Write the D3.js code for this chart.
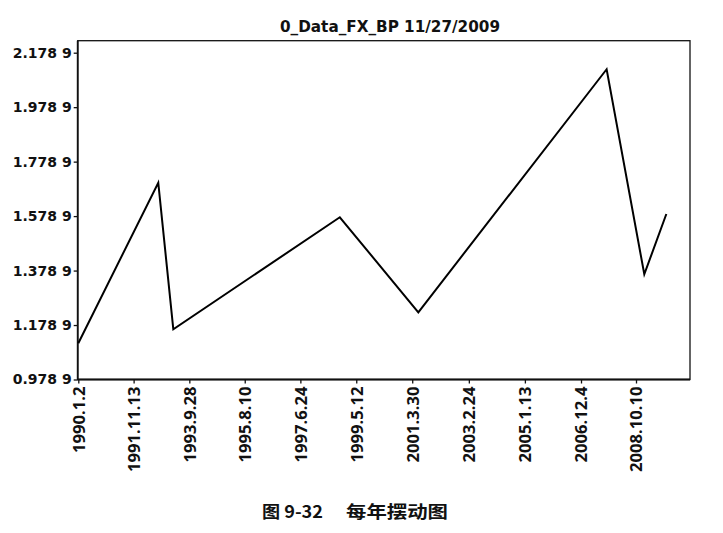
<!DOCTYPE html>
<html>
<head>
<meta charset="utf-8">
<script src="https://cdn.jsdelivr.net/npm/d3@7"></script>
<style>
  html, body { margin: 0; padding: 0; background: #fff; }
  svg { display: block; }
</style>
</head>
<body>
<svg id="chart" width="723" height="533"></svg>
<script>
// ---- data ----
const titleText = "0_Data_FX_BP 11/27/2009";
const captionFig = "图 9-32";
const captionName = "每年摆动图";

const pointDates = ["1990-01-02", "1992-09-11", "1993-03-15", "1998-10-22",
                    "2001-06-13", "2007-10-15", "2009-01-20", "2009-10-18"];
const pointValues = [1.1118, 1.7016, 1.1633, 1.5746, 1.2257, 2.1181, 1.3652, 1.5867];

const yTicks = [0.9789, 1.1789, 1.3789, 1.5789, 1.7789, 1.9789, 2.1789];
const yTickLabels = ["0.978 9", "1.178 9", "1.378 9", "1.578 9", "1.778 9", "1.978 9", "2.178 9"];

const xTickLabels = ["1990.1.2", "1991.11.13", "1993.9.28", "1995.8.10", "1997.6.24",
                     "1999.5.12", "2001.3.30", "2003.2.24", "2005.1.13", "2006.12.4", "2008.10.10"];

// ---- layout ----
const box = { left: 77.7, right: 690, top: 40.7, bottom: 379.5 };
const parseISO = d3.timeParse("%Y-%m-%d");
const parseDot = d3.timeParse("%Y.%m.%d");
const xTickDates = xTickLabels.map(parseDot);

const x = d3.scaleTime()
  .domain([xTickDates[0], xTickDates[xTickDates.length - 1]])
  .range([78.3, 636]);
const y = d3.scaleLinear()
  .domain([yTicks[0], yTicks[yTicks.length - 1]])
  .range([379.5, 52.7]);

const svg = d3.select("#chart");

// frame
svg.append("rect")
  .attr("x", box.left).attr("y", box.top)
  .attr("width", box.right - box.left).attr("height", box.bottom - box.top)
  .attr("fill", "none").attr("stroke", "#111").attr("stroke-width", 1.3);
svg.append("line")
  .attr("x1", box.left).attr("x2", box.right)
  .attr("y1", box.bottom).attr("y2", box.bottom)
  .attr("stroke", "#111").attr("stroke-width", 2);
svg.append("line")
  .attr("x1", box.left).attr("x2", box.left)
  .attr("y1", box.top).attr("y2", box.bottom)
  .attr("stroke", "#111").attr("stroke-width", 1.8);

// y axis
const yAxis = d3.axisLeft(y)
  .tickValues(yTicks)
  .tickFormat((d, i) => yTickLabels[i])
  .tickSize(4)
  .tickPadding(2);
const gy = svg.append("g")
  .attr("transform", `translate(${box.left},0)`)
  .call(yAxis);
gy.select(".domain").remove();
gy.selectAll(".tick line").attr("stroke", "#111").attr("stroke-width", 1.3);
gy.selectAll(".tick text")
  .attr("fill", "#111")
  .style("font-family", "'DejaVu Sans', sans-serif")
  .style("font-weight", "bold")
  .style("font-size", "14px");

// x axis
const xAxis = d3.axisBottom(x)
  .tickValues(xTickDates)
  .tickFormat((d, i) => xTickLabels[i])
  .tickSize(4)
  .tickPadding(0);
const gx = svg.append("g")
  .attr("transform", `translate(0,${box.bottom})`)
  .call(xAxis);
gx.select(".domain").remove();
gx.selectAll(".tick line").attr("stroke", "#111").attr("stroke-width", 1.3);
gx.selectAll(".tick text")
  .attr("fill", "#111")
  .attr("transform", "rotate(-90)")
  .attr("text-anchor", "end")
  .attr("x", -7)
  .attr("y", 0)
  .attr("dy", "0.35em")
  .style("font-family", "'Open Sans', sans-serif")
  .style("font-weight", "bold")
  .style("font-size", "16.6px");

// line
const line = d3.line()
  .x((d, i) => x(parseISO(pointDates[i])))
  .y(d => y(d));
svg.append("path")
  .datum(pointValues)
  .attr("d", line)
  .attr("fill", "none")
  .attr("stroke", "#000")
  .attr("stroke-width", 2)
  .attr("stroke-linejoin", "miter");

// title
svg.append("text")
  .attr("x", 390).attr("y", 27)
  .attr("text-anchor", "middle")
  .attr("dominant-baseline", "central")
  .attr("textLength", 220)
  .attr("lengthAdjust", "spacingAndGlyphs")
  .style("font-family", "'DejaVu Sans', sans-serif")
  .style("font-weight", "bold")
  .style("font-size", "15px")
  .attr("fill", "#111")
  .text(titleText);

// caption
svg.append("text")
  .attr("x", 262).attr("y", 510)
  .attr("dominant-baseline", "central")
  .attr("textLength", 61)
  .attr("lengthAdjust", "spacingAndGlyphs")
  .style("font-family", "'Noto Sans CJK SC', sans-serif")
  .style("font-weight", "bold")
  .style("font-size", "17px")
  .attr("fill", "#111")
  .text(captionFig);
svg.append("text")
  .attr("x", 346).attr("y", 510)
  .attr("dominant-baseline", "central")
  .attr("textLength", 102)
  .attr("lengthAdjust", "spacingAndGlyphs")
  .style("font-family", "'Noto Sans CJK SC', sans-serif")
  .style("font-weight", "bold")
  .style("font-size", "17px")
  .attr("fill", "#111")
  .text(captionName);
</script>
</body>
</html>
